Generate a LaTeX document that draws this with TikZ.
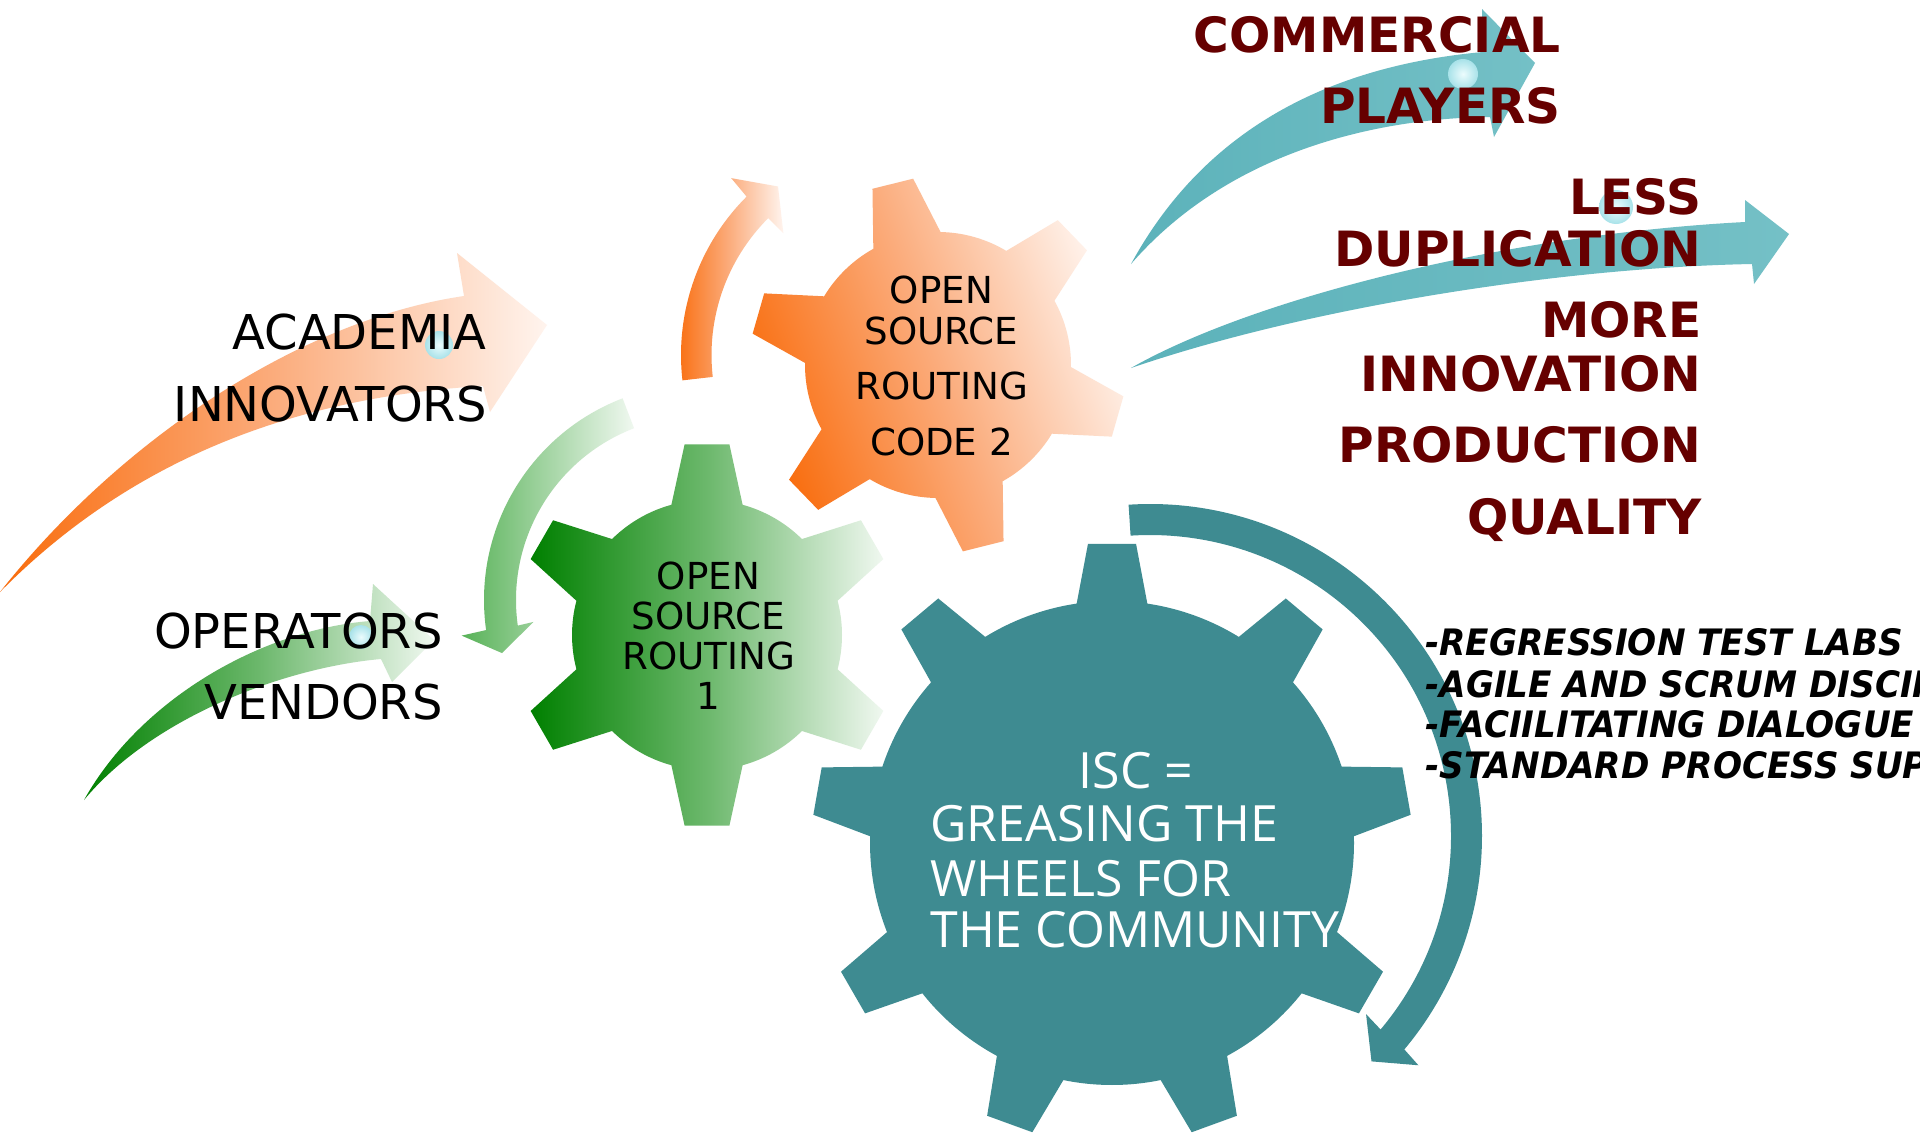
\documentclass[tikz,border=0pt]{standalone}
\usepackage{fontspec}
\setmainfont{DejaVu Sans}[ItalicFont={DejaVu Sans Oblique},BoldItalicFont={DejaVu Sans Bold Oblique}]
\newfontfamily\osans{Open Sans}
\newfontfamily\itlist{DejaVu Sans Bold Oblique}[FakeStretch=0.94]
\definecolor{dred}{RGB}{102,0,0}
\definecolor{tealgear}{RGB}{62,139,145}
\definecolor{tealarrow}{RGB}{116,192,198}
\definecolor{tealarrowd}{RGB}{92,178,186}
\definecolor{gdark}{RGB}{0,128,0}
\definecolor{gmid}{RGB}{108,184,108}
\definecolor{glight}{RGB}{240,248,240}
\definecolor{garc}{RGB}{88,178,88}
\definecolor{odark}{RGB}{249,108,12}
\definecolor{omid}{RGB}{251,172,124}
\definecolor{olight}{RGB}{255,244,238}
\definecolor{glossin}{RGB}{236,252,253}
\definecolor{glossout}{RGB}{168,226,233}
\tikzset{
  lbl/.style={inner sep=0pt, anchor=base east, font=\fontsize{24}{28}\selectfont, text=black},
  gtxt/.style={inner sep=0pt, anchor=base, font=\fontsize{18.6}{22}\selectfont, text=black},
  rtxt/.style={inner sep=0pt, anchor=base east, font=\fontsize{24.3}{28}\selectfont\bfseries, text=dred},
  itxt/.style={inner sep=0pt, anchor=base west, font=\itlist\fontsize{18.2}{20}\selectfont, text=black},
  wtxt/.style={inner sep=0pt, font=\osans\fontsize{25}{28}\selectfont, text=white},
  gloss/.style={inner color=glossin, outer color=glossout},
  tealshade/.style={left color=tealarrowd, right color=tealarrow},
}
% rb rt n offset bh th
\newcommand\gearpath[6]{%
  ({#4-#5}:#1)
  \foreach \k in {1,...,#3}{
    -- ({#4+(\k-1)*360/#3-#6}:#2) -- ({#4+(\k-1)*360/#3+#6}:#2)
    -- ({#4+(\k-1)*360/#3+#5}:#1)
    arc[start angle={#4+(\k-1)*360/#3+#5}, end angle={#4+\k*360/#3-#5}, radius=#1]
  } -- cycle}
\begin{document}
\begin{tikzpicture}[x=0.5pt,y=-0.5pt]
\useasboundingbox (0,0) rectangle (1920,1140);
\fill[white] (0,0) rectangle (1920,1140);

% ---- big swoosh arrows ----
\path[left color=odark, right color=olight, middle color=omid]
  (0,592) .. controls (120,440) and (300,320) .. (464,296)
  -- (457,253) -- (547,325) -- (490,412) -- (483,386)
  .. controls (330,395) and (150,440) .. (0,592) -- cycle;
\path[left color=gdark, right color=glight, middle color=gmid]
  (84,800) .. controls (140,700) and (260,630) .. (370,621)
  -- (373,584) -- (434,640) -- (392,682) -- (381,659)
  .. controls (280,668) and (150,720) .. (84,800) -- cycle;
\path[tealshade]
  (1131,264) .. controls (1185,165) and (1285,70) .. (1483,52)
  -- (1482,9) -- (1535,63) -- (1494,137) -- (1490,117)
  .. controls (1380,118) and (1230,150) .. (1131,264) -- cycle;
\path[tealshade]
  (1131,368) .. controls (1250,300) and (1500,235) .. (1745,222)
  -- (1745,200) -- (1789,234) -- (1754,284) -- (1752,264)
  .. controls (1550,268) and (1300,310) .. (1131,368) -- cycle;

% ---- circular arrows ----
\path[shift={(700,600)}, left color=garc, right color=glight]
  (-111:216) arc[start angle=-111, end angle=-188, radius=216]
  -- (-188.5:241) -- (-195:205) -- (-187.5:168) -- (-188:184)
  arc[start angle=-188, end angle=-111, radius=184] -- cycle;
\path[shift={(905,355)}, left color=odark, right color=olight, middle color=omid]
  (-186.5:224) arc[start angle=-186.5, end angle=-135, radius=224]
  -- (-134.5:248) -- (-127:211) -- (-135:172) -- (-135:193.5)
  arc[start angle=-135, end angle=-186.5, radius=193.5] -- cycle;
\fill[shift={(1150,836)}, tealgear]
  (-93.7:332) arc[start angle=-93.7, end angle=40, radius=332]
  -- (40.5:353) -- (45.5:316) -- (39.5:280) -- (40:301)
  arc[start angle=40, end angle=-93.7, radius=301] -- cycle;

% ---- gears ----
\path[shift={(707,635)}, left color=gdark, right color=glight, middle color=gmid]
  \gearpath{135}{192}{6}{30}{15.3}{6.7};
\path[shift={(938,365)}, top color=olight, bottom color=odark, middle color=omid, shading angle=-70]
  \gearpath{133}{188}{6}{16}{15.1}{6.4};
\fill[shift={(1112,843)}, tealgear]
  \gearpath{242}{300}{9}{30}{8.4}{4.6};

% ---- glossy dots ----
\path[gloss] (439,345) circle[radius=14];
\path[gloss] (361,637) circle[radius=12];
\path[gloss] (1463,74) circle[radius=15];
\path[gloss] (1616,207) circle[radius=17];

% ---- texts ----
\node[lbl] (aca) at (487,349) {ACADEMIA};
\node[lbl] (inn) at (487,421) {INNOVATORS};
\node[lbl] (ope) at (443,648) {OPERATORS};
\node[lbl] (ven) at (443,719) {VENDORS};

\node[gtxt] (g1a) at (708.5,589) {OPEN};
\node[gtxt] (g1b) at (708.5,629) {SOURCE};
\node[gtxt] (g1c) at (708.5,669) {ROUTING};
\node[gtxt] (g1d) at (708.5,709) {1};

\node[gtxt] (g2a) at (941.5,303) {OPEN};
\node[gtxt] (g2b) at (941.5,344) {SOURCE};
\node[gtxt] (g2c) at (941.5,399) {ROUTING};
\node[gtxt] (g2d) at (941.5,455) {CODE 2};

\node[wtxt, anchor=base] (isc) at (1136,788) {ISC =};
\node[wtxt, anchor=base west] (gre) at (930,841) {GREASING THE};
\node[wtxt, anchor=base west] (whe) at (930,896) {WHEELS FOR};
\node[wtxt, anchor=base west] (com) at (930,947) {THE COMMUNITY};

\node[rtxt] (r1) at (1561,52) {COMMERCIAL};
\node[rtxt] (r2) at (1561,123) {PLAYERS};
\node[rtxt] (r3) at (1702,214) {LESS};
\node[rtxt] (r4) at (1702,266) {DUPLICATION};
\node[rtxt] (r5) at (1702,337) {MORE};
\node[rtxt] (r6) at (1702,391) {INNOVATION};
\node[rtxt] (r7) at (1702,462) {PRODUCTION};
\node[rtxt] (r8) at (1702,534) {QUALITY};

\node[itxt] (i1) at (1425,655) {-REGRESSION TEST LABS};
\node[itxt] (i2) at (1425,697) {-AGILE AND SCRUM DISCIP};
\node[itxt] (i3) at (1425,737) {-FACIILITATING DIALOGUE};
\node[itxt] (i4) at (1425,778) {-STANDARD PROCESS SUP};
\end{tikzpicture}
\end{document}
